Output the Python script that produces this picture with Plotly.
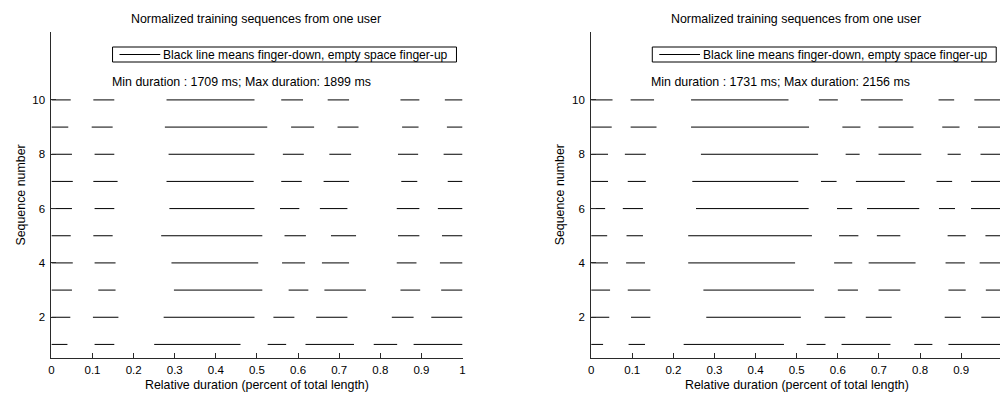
import plotly.graph_objects as go

# Finger-down intervals (normalized time) for each of the 10 training sequences.
# Row i of each list is sequence number i + 1.
left_down_start = [
    [0, 0.105, 0.250, 0.526, 0.618, 0.784, 0.881],
    [0, 0.101, 0.273, 0.540, 0.644, 0.828, 0.924],
    [0, 0.114, 0.298, 0.577, 0.664, 0.849, 0.948],
    [0, 0.105, 0.292, 0.561, 0.658, 0.840, 0.945],
    [0, 0.102, 0.267, 0.567, 0.680, 0.843, 0.950],
    [0, 0.105, 0.287, 0.556, 0.653, 0.840, 0.940],
    [0, 0.102, 0.280, 0.559, 0.662, 0.851, 0.964],
    [0, 0.105, 0.285, 0.563, 0.676, 0.843, 0.954],
    [0, 0.098, 0.276, 0.583, 0.696, 0.853, 0.962],
    [0, 0.102, 0.280, 0.559, 0.672, 0.849, 0.957],
]
left_down_end = [
    [0.039, 0.153, 0.460, 0.571, 0.736, 0.841, 1],
    [0.046, 0.163, 0.494, 0.591, 0.720, 0.881, 1],
    [0.050, 0.156, 0.513, 0.625, 0.765, 0.897, 1],
    [0.052, 0.156, 0.503, 0.617, 0.724, 0.888, 1],
    [0.047, 0.149, 0.513, 0.619, 0.741, 0.895, 1],
    [0.050, 0.153, 0.494, 0.603, 0.720, 0.895, 1],
    [0.052, 0.161, 0.492, 0.609, 0.724, 0.890, 1],
    [0.050, 0.153, 0.494, 0.614, 0.729, 0.892, 1],
    [0.041, 0.149, 0.525, 0.639, 0.747, 0.893, 1],
    [0.047, 0.153, 0.494, 0.612, 0.724, 0.895, 1],
]
right_down_start = [
    [0, 0.091, 0.225, 0.524, 0.609, 0.786, 0.869],
    [0, 0.097, 0.280, 0.568, 0.668, 0.860, 0.949],
    [0, 0.089, 0.273, 0.600, 0.699, 0.869, 0.960],
    [0, 0.085, 0.236, 0.591, 0.675, 0.862, 0.945],
    [0, 0.086, 0.236, 0.603, 0.695, 0.867, 0.959],
    [0, 0.077, 0.255, 0.598, 0.671, 0.846, 0.924],
    [0, 0.089, 0.246, 0.559, 0.644, 0.840, 0.924],
    [0, 0.082, 0.267, 0.619, 0.699, 0.867, 0.947],
    [0, 0.096, 0.243, 0.611, 0.699, 0.854, 0.941],
    [0, 0.096, 0.243, 0.554, 0.656, 0.845, 0.932],
]
right_down_end = [
    [0.029, 0.131, 0.469, 0.570, 0.728, 0.830, 1],
    [0.044, 0.144, 0.510, 0.618, 0.731, 0.899, 1],
    [0.046, 0.144, 0.542, 0.649, 0.752, 0.911, 1],
    [0.041, 0.131, 0.496, 0.635, 0.789, 0.909, 1],
    [0.039, 0.126, 0.537, 0.650, 0.752, 0.911, 1],
    [0.034, 0.126, 0.529, 0.635, 0.798, 0.885, 1],
    [0.041, 0.133, 0.504, 0.597, 0.763, 0.878, 1],
    [0.041, 0.133, 0.552, 0.653, 0.803, 0.899, 1],
    [0.050, 0.159, 0.530, 0.655, 0.784, 0.896, 1],
    [0.052, 0.153, 0.480, 0.600, 0.758, 0.883, 1],
]

durations = [("1709", "1899"), ("1731", "2156")]
x_ticks = [0, 0.1, 0.2, 0.3, 0.4, 0.5, 0.6, 0.7, 0.8, 0.9, 1]
x_tick_text = ["0", "0.1", "0.2", "0.3", "0.4", "0.5", "0.6", "0.7", "0.8", "0.9", "1"]
y_ticks = [2, 4, 6, 8, 10]

TITLE = "Normalized training sequences from one user"
LEGEND_TEXT = "Black line means finger-down, empty space finger-up"
FONT = "Liberation Sans, Arial, Helvetica, sans-serif"
TEXT_SIZE = 12.4
LEGEND_SIZE = 12.1
TICK_SIZE = 11.5

W, H = 1003, 394


def px(x):
    return x / W


def py(y):
    return 1 - y / H


def segments(starts, ends):
    xs, ys = [], []
    for i, (s_row, e_row) in enumerate(zip(starts, ends)):
        for s, e in zip(s_row, e_row):
            xs += [s, e, None]
            ys += [i + 1, i + 1, None]
    return xs, ys


fig = go.Figure()
for k, (st, en) in enumerate([(left_down_start, left_down_end),
                              (right_down_start, right_down_end)]):
    xs, ys = segments(st, en)
    fig.add_trace(go.Scatter(
        x=xs, y=ys, mode="lines",
        line=dict(color="black", width=1),
        xaxis="x" if k == 0 else "x2",
        yaxis="y" if k == 0 else "y2",
        showlegend=False, hoverinfo="skip",
    ))

# axis pixel geometry
ax_left = [48.7, 591.7]
unit_px = 413.6
ax_top, ax_bottom = 32, 358

axis_common = dict(
    showline=True, linecolor="#2a2a2a", linewidth=1, mirror=False,
    ticks="inside", ticklen=5, tickcolor="#2a2a2a", tickwidth=1,
    showgrid=False, zeroline=False,
    tickfont=dict(family=FONT, size=TICK_SIZE, color="black"),
    fixedrange=True,
)

layout = dict(
    width=W, height=H,
    margin=dict(l=0, r=0, t=0, b=0),
    paper_bgcolor="white", plot_bgcolor="white",
    showlegend=False,
    font=dict(family=FONT, size=TEXT_SIZE, color="black"),
)

annotations, shapes = [], []
text_font = dict(family=FONT, size=TEXT_SIZE, color="black")
for k in range(2):
    xl = ax_left[k]
    xr = min(xl + unit_px, W)
    xmax = (xr - xl) / unit_px
    xa = "xaxis" if k == 0 else "xaxis2"
    ya = "yaxis" if k == 0 else "yaxis2"
    xref = "x" if k == 0 else "x2"
    yref = "y" if k == 0 else "y2"
    layout[xa] = dict(axis_common, domain=[px(xl), px(xr)], range=[0, xmax],
                      tickvals=x_ticks, ticktext=x_tick_text,
                      anchor=yref, ticklabelstandoff=1)
    layout[ya] = dict(axis_common, domain=[py(ax_bottom), py(ax_top)],
                      range=[0.5, 12.5], tickvals=y_ticks, anchor=xref,
                      ticklabelstandoff=3)

    cx = xl + unit_px / 2
    annotations.append(dict(text=TITLE, x=px(cx - 1), y=py(19), xref="paper", yref="paper",
                            xanchor="center", yanchor="middle", showarrow=False,
                            font=text_font))
    annotations.append(dict(text="Relative duration (percent of total length)",
                            x=px(cx), y=py(385), xref="paper", yref="paper",
                            xanchor="center", yanchor="middle", showarrow=False,
                            font=text_font))
    annotations.append(dict(text="Sequence number", textangle=-90,
                            x=px(xl - 31), y=py((ax_top + ax_bottom) / 2),
                            xref="paper", yref="paper",
                            xanchor="center", yanchor="middle", showarrow=False,
                            font=text_font))
    mn, mx = durations[k]
    annotations.append(dict(text=f"Min duration : {mn} ms; Max duration: {mx} ms",
                            x=px(xl + 58.5), y=py(82), xref="paper", yref="paper",
                            xanchor="left", yanchor="middle", showarrow=False,
                            font=text_font))

    # legend box
    bx0 = xl + 61.5
    bx1 = bx0 + 346
    shapes.append(dict(type="rect", xref="paper", yref="paper",
                       x0=px(bx0), x1=px(bx1), y0=py(62), y1=py(47),
                       line=dict(color="black", width=1), fillcolor="white", layer="above"))
    shapes.append(dict(type="line", xref="paper", yref="paper",
                       x0=px(bx0 + 7), x1=px(bx0 + 48), y0=py(54.5), y1=py(54.5),
                       line=dict(color="black", width=1), layer="above"))
    annotations.append(dict(text=LEGEND_TEXT, x=px(bx0 + 48.5), y=py(54.5),
                            xref="paper", yref="paper", xanchor="left", yanchor="middle",
                            showarrow=False,
                            font=dict(family=FONT, size=LEGEND_SIZE, color="black")))

layout["annotations"] = annotations
layout["shapes"] = shapes
fig.update_layout(**layout)

fig.write_html("out.html", config={"displayModeBar": False})
